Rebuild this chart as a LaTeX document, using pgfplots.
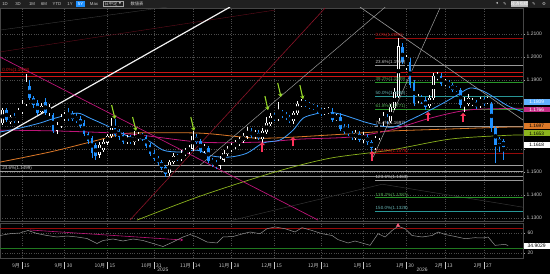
\documentclass[border=0pt]{standalone}
\usepackage{fontspec}
\setmainfont{Liberation Sans}
\newfontfamily\cjk{Noto Sans CJK JP}
\newfontfamily\dejavu{DejaVu Sans}
\usepackage{pgfplots}
\usepackage{pgfplotstable}
\pgfplotsset{compat=1.18}
\usetikzlibrary{arrows.meta}

\definecolor{cblue}{RGB}{30,144,255}
\definecolor{fibred}{RGB}{150,10,10}
\definecolor{lred}{RGB}{205,20,20}
\definecolor{fibgreen}{RGB}{40,150,40}
\definecolor{fibteal}{RGB}{40,150,150}
\definecolor{magma}{RGB}{190,20,120}
\definecolor{orangema}{RGB}{220,120,40}
\definecolor{limema}{RGB}{140,180,30}
\definecolor{arrowgreen}{RGB}{150,215,40}
\definecolor{arrowred}{RGB}{255,50,90}
\definecolor{gridc}{RGB}{75,75,75}
\definecolor{tool}{RGB}{32,32,32}
\definecolor{darkred}{RGB}{140,20,40}
\definecolor{lbl}{RGB}{200,200,200}

\newcommand{\xl}[2]{\makebox[0pt][r]{#1\hspace{2pt}}\rule[-1.5pt]{0.4pt}{7pt}\makebox[0pt][l]{\hspace{2pt}#2}}

\pgfplotstableread{
d o h l c
-5 1.1712 1.1777 1.1704 1.1769
-4 1.1769 1.1777 1.1717 1.1725
-3 1.1717 1.1747 1.1708 1.1738
-2 1.1738 1.1756 1.1712 1.1721
-1 1.1721 1.1777 1.1712 1.1769
0 1.1760 1.1812 1.1751 1.1795
1 1.1795 1.1925 1.1786 1.1890
2 1.1873 1.1899 1.1812 1.1821
3 1.1821 1.1829 1.1777 1.1790
4 1.1799 1.1812 1.1747 1.1756
5 1.1760 1.1799 1.1751 1.1786
6 1.1803 1.1821 1.1747 1.1756
7 1.1756 1.1795 1.1743 1.1782
8 1.1747 1.1756 1.1669 1.1678
9 1.1678 1.1717 1.1665 1.1704
10 1.1699 1.1751 1.1691 1.1738
11 1.1734 1.1760 1.1721 1.1747
12 1.1747 1.1777 1.1721 1.1734
13 1.1751 1.1764 1.1721 1.1730
14 1.1738 1.1756 1.1712 1.1721
15 1.1730 1.1743 1.1691 1.1699
16 1.1712 1.1725 1.1656 1.1665
17 1.1665 1.1673 1.1621 1.1634
18 1.1647 1.1656 1.1561 1.1582
19 1.1617 1.1626 1.1552 1.1569
20 1.1574 1.1630 1.1561 1.1617
21 1.1595 1.1643 1.1587 1.1630
22 1.1626 1.1665 1.1617 1.1656
23 1.1656 1.1734 1.1647 1.1691
24 1.1691 1.1730 1.1652 1.1660
25 1.1678 1.1686 1.1639 1.1652
26 1.1660 1.1673 1.1621 1.1630
27 1.1630 1.1660 1.1621 1.1647
28 1.1647 1.1660 1.1621 1.1634
29 1.1630 1.1678 1.1617 1.1652
30 1.1647 1.1673 1.1634 1.1660
31 1.1660 1.1669 1.1634 1.1647
32 1.1652 1.1660 1.1604 1.1613
33 1.1617 1.1626 1.1569 1.1578
34 1.1582 1.1595 1.1548 1.1556
35 1.1561 1.1569 1.1530 1.1539
36 1.1543 1.1552 1.1508 1.1517
37 1.1521 1.1530 1.1478 1.1491
38 1.1495 1.1552 1.1482 1.1543
39 1.1543 1.1582 1.1535 1.1569
40 1.1569 1.1578 1.1548 1.1556
41 1.1556 1.1595 1.1548 1.1582
42 1.1578 1.1604 1.1569 1.1591
43 1.1587 1.1617 1.1578 1.1604
44 1.1600 1.1678 1.1591 1.1656
45 1.1652 1.1665 1.1621 1.1630
46 1.1634 1.1643 1.1582 1.1591
47 1.1595 1.1621 1.1582 1.1608
48 1.1604 1.1613 1.1539 1.1548
49 1.1552 1.1561 1.1521 1.1535
50 1.1539 1.1552 1.1513 1.1521
51 1.1526 1.1569 1.1513 1.1556
52 1.1552 1.1595 1.1543 1.1582
53 1.1578 1.1613 1.1569 1.1600
54 1.1595 1.1626 1.1587 1.1613
55 1.1608 1.1639 1.1600 1.1626
56 1.1621 1.1652 1.1613 1.1639
57 1.1634 1.1669 1.1626 1.1656
58 1.1652 1.1695 1.1643 1.1678
59 1.1678 1.1691 1.1647 1.1656
60 1.1656 1.1682 1.1643 1.1669
61 1.1669 1.1682 1.1639 1.1647
62 1.1643 1.1691 1.1626 1.1678
63 1.1673 1.1738 1.1665 1.1712
64 1.1708 1.1756 1.1699 1.1743
65 1.1743 1.1756 1.1721 1.1730
66 1.1730 1.1803 1.1721 1.1764
67 1.1760 1.1769 1.1734 1.1747
68 1.1751 1.1760 1.1725 1.1734
69 1.1738 1.1747 1.1712 1.1721
70 1.1721 1.1764 1.1708 1.1756
71 1.1756 1.1808 1.1747 1.1795
72 1.1790 1.1816 1.1782 1.1803
73 1.1803 1.1812 1.1782 1.1790
74 1.1795 1.1803 1.1773 1.1782
75 1.1786 1.1795 1.1769 1.1777
76 1.1782 1.1790 1.1751 1.1764
77 1.1769 1.1777 1.1743 1.1756
78 1.1756 1.1777 1.1747 1.1769
79 1.1760 1.1782 1.1751 1.1769
80 1.1760 1.1777 1.1717 1.1725
81 1.1730 1.1751 1.1721 1.1738
82 1.1738 1.1756 1.1678 1.1686
83 1.1695 1.1708 1.1665 1.1673
84 1.1682 1.1708 1.1656 1.1669
85 1.1669 1.1678 1.1639 1.1647
86 1.1647 1.1682 1.1639 1.1669
87 1.1665 1.1678 1.1630 1.1639
88 1.1639 1.1673 1.1626 1.1660
89 1.1652 1.1665 1.1617 1.1630
90 1.1630 1.1639 1.1587 1.1604
91 1.1604 1.1656 1.1595 1.1647
92 1.1647 1.1734 1.1639 1.1721
93 1.1717 1.1760 1.1699 1.1743
94 1.1738 1.1751 1.1708 1.1721
95 1.1721 1.1795 1.1712 1.1782
96 1.1777 1.1864 1.1769 1.1847
97 1.1829 1.2081 1.1821 1.2045
98 1.2040 1.2060 1.1969 1.1977
99 1.1951 1.2008 1.1943 1.1999
100 1.1977 1.1995 1.1864 1.1877
101 1.1886 1.1899 1.1786 1.1799
102 1.1808 1.1838 1.1799 1.1825
103 1.1821 1.1834 1.1795 1.1808
104 1.1812 1.1825 1.1769 1.1782
105 1.1786 1.1834 1.1777 1.1821
106 1.1821 1.1929 1.1812 1.1916
107 1.1908 1.1934 1.1899 1.1921
108 1.1916 1.1929 1.1873 1.1882
109 1.1882 1.1903 1.1873 1.1890
110 1.1890 1.1899 1.1864 1.1873
111 1.1877 1.1886 1.1847 1.1856
112 1.1864 1.1873 1.1847 1.1856
113 1.1856 1.1864 1.1777 1.1790
114 1.1790 1.1825 1.1760 1.1803
115 1.1795 1.1838 1.1786 1.1821
116 1.1795 1.1821 1.1786 1.1808
117 1.1803 1.1812 1.1773 1.1782
118 1.1786 1.1825 1.1777 1.1816
119 1.1816 1.1825 1.1786 1.1795
120 1.1803 1.1825 1.1795 1.1816
121 1.1795 1.1803 1.1673 1.1691
122 1.1691 1.1699 1.1539 1.1617
123 1.1643 1.1652 1.1587 1.1621
124 1.1634 1.1643 1.1552 1.1608
125 1.1613 1.1626 1.1604 1.1618
}\candles

\pgfplotstableread{
d rsi
-5.67 55
-3.09 58.6
-0.52 60
1.55 65
3.87 59
6.44 55
9.02 52
11.60 54
14.18 52
16.75 49
19.33 39
20.88 45
23.45 48
26.03 44
28.61 48
31.19 45
33.76 39
36.34 33
38.92 42
41.49 52
43.30 57
45.10 52
47.68 42
50.26 40
51.80 52
54.38 53
56.96 58.6
58.76 62
61.34 58.6
63.14 68.6
65.21 72
67.78 68.6
70.36 62
72.16 70.7
74.74 65
77.32 58.6
79.90 55
81.44 46.7
84.02 40
85.82 44
87.63 40
89.69 35.3
91.75 58.6
93.56 52
95.36 65
96.91 73.3
98.71 68.6
100.52 55
103.09 52
105.67 55
107.22 62
109.02 57
111.60 53
114.18 48.6
116.75 50.6
118.81 50
120.10 52
121.91 35.3
124.48 37.3
125.26 34.9
}\rsitable

\begin{document}
\begin{tikzpicture}
\useasboundingbox (0,0) rectangle (550pt,274pt);
\fill[black] (0,0) rectangle (550pt,274pt);
% toolbar
\fill[tool] (0,266.5pt) rectangle (550pt,274pt);
\fill[cblue] (76pt,267.5pt) rectangle (85pt,273pt);
\draw[gray!70, line width=0.3pt] (103pt,267.5pt) rectangle (123pt,273pt);
\fill[gray!55] (511pt,267.5pt) rectangle (528pt,273pt);
\begin{scope}[every node/.style={font=\fontsize{4.3}{5}\selectfont, text=lbl, inner sep=0pt}]
\node at (5pt,270.2pt) {1D};
\node at (18pt,270.2pt) {3D};
\node at (32pt,270.2pt) {1M};
\node at (44pt,270.2pt) {6M};
\node at (57pt,270.2pt) {YTD};
\node at (70pt,270.2pt) {1Y};
\node[text=white] at (80.5pt,270.2pt) {5Y};
\node at (94pt,270.2pt) {Max};
\node at (111pt,270.2pt) {\cjk 日中足};
\node at (120pt,270.2pt) {\dejavu\fontsize{3}{3}\selectfont ▼};
\node at (137pt,270.2pt) {\cjk 数値表};
\node at (497pt,270.2pt) {\dejavu ◂};
\node at (505pt,270.2pt) {\dejavu ✎};
\node[text=white] at (519.5pt,270.2pt) {\cjk 経済指標};
\node at (534pt,270.2pt) {\dejavu ✎};
\node at (544pt,270.2pt) {\dejavu ⚙};
\end{scope}

% ================= main price panel =================
\begin{axis}[
  at={(0pt,53pt)}, anchor=south west, scale only axis,
  width=523pt, height=213pt,
  xmin=-5.67, xmax=129.1, ymin=1.1286, ymax=1.2212,
  axis line style={draw=gray!55!black, line width=0.6pt},
  xtick={0,11,22,34,44,54,65,77,88,99,109,119}, xticklabels={},
  xtick style={draw=none},
  ytick={1.13,1.14,1.15,1.16,1.17,1.18,1.19,1.20,1.21},
  yticklabels={1.1300,1.1400,1.1500,,,,1.1900,1.2000,1.2100},
  ytick pos=right, yticklabel pos=right,
  ytick style={draw=gray!70}, tick align=outside, major tick length=2pt,
  yticklabel style={font=\fontsize{5}{6}\selectfont, text=lbl, inner sep=1.5pt},
  grid=major, major grid style={draw=gridc, dash pattern=on 0.8pt off 1.6pt, line width=0.4pt},
  clip mode=individual,
]
% faint lines
\addplot[gray!45!black, line width=0.4pt] coordinates {(-5.67,1.2116) (37.4,1.2216)};
\addplot[darkred!70!black, line width=0.4pt] coordinates {(-5.67,1.2021) (65.2,1.2203)};
\addplot[gray!40!black, line width=0.5pt] coordinates {(54.4,1.1290) (92.8,1.1446) (129.1,1.1346)};
% horizontal levels (left)
\addplot[lred, line width=0.8pt] coordinates {(-5.67,1.1930) (129.1,1.1930)};
\addplot[lred, line width=0.8pt] coordinates {(-5.67,1.1916) (129.1,1.1916)};
\addplot[gray!75, line width=0.6pt] coordinates {(-5.67,1.1528) (129.1,1.1528)};
\addplot[gray!75, line width=0.6pt] coordinates {(-5.67,1.1502) (129.1,1.1502)};
\addplot[gray!90!white, line width=0.6pt] coordinates {(-5.67,1.1481) (129.1,1.1481)};
% fib levels (right)
\addplot[fibred, line width=0.7pt] coordinates {(91,1.2081) (129.1,1.2081)};
\addplot[gray!80, line width=0.7pt] coordinates {(91,1.1963) (129.1,1.1963)};
\addplot[fibgreen, line width=0.7pt] coordinates {(91,1.1889) (129.1,1.1889)};
\addplot[fibteal, line width=0.7pt] coordinates {(91,1.1830) (129.1,1.1830)};
\addplot[fibgreen, line width=0.7pt] coordinates {(91,1.1771) (129.1,1.1771)};
\addplot[gray!80, line width=0.7pt] coordinates {(91,1.1697) (129.1,1.1697)};
\addplot[fibred, line width=0.7pt] coordinates {(91,1.1579) (129.1,1.1579)};
\addplot[gray!80, line width=0.7pt] coordinates {(91,1.1463) (129.1,1.1463)};
\addplot[fibgreen, line width=0.7pt] coordinates {(91,1.1387) (129.1,1.1387)};
\addplot[fibteal, line width=0.7pt] coordinates {(91,1.1328) (129.1,1.1328)};
% moving averages
\addplot[limema, line width=0.7pt, smooth] coordinates {(29.64,1.1290) (45.88,1.1394) (65.21,1.1499) (79.38,1.1559) (94.85,1.1594) (110.31,1.1642) (124.48,1.1658) (129.1,1.1660)};
\addplot[orangema, line width=0.8pt, smooth] coordinates {(-5.67,1.1542) (7.22,1.1586) (17.53,1.1629) (22.68,1.1651) (27.84,1.1668) (45.88,1.1668) (61.34,1.1646) (79.38,1.1660) (94.85,1.1677) (110.31,1.1686) (124.48,1.1694) (129.1,1.1695)};
\addplot[magma, line width=0.8pt, smooth] coordinates {(-5.67,1.1681) (9.79,1.1677) (27.84,1.1664) (45.88,1.1629) (61.34,1.1629) (71.65,1.1642) (84.54,1.1651) (94.85,1.1681) (105.15,1.1733) (114.69,1.1768) (124.48,1.1775) (129.1,1.1776)};
\addplot[cblue!85!white, line width=0.8pt, smooth] coordinates {(-5.67,1.1673) (-0.52,1.1690) (4.64,1.1712) (8.51,1.1733) (14.18,1.1755) (17.53,1.1733) (22.68,1.1694) (27.84,1.1651) (32.22,1.1638) (36.34,1.1594) (40.72,1.1586) (45.10,1.1594) (49.23,1.1568) (53.61,1.1564) (57.99,1.1581) (62.11,1.1625) (66.49,1.1638) (69.85,1.1681) (72.42,1.1733) (75.52,1.1751) (78.61,1.1760) (81.96,1.1751) (85.31,1.1733) (88.40,1.1716) (91.49,1.1703) (95.62,1.1694) (100.0,1.1725) (105.15,1.1768) (109.02,1.1803) (112.11,1.1833) (115.46,1.1864) (118.81,1.1851) (121.91,1.1821) (125.26,1.1786) (129.1,1.1760)};
% trend lines
\addplot[white!90!gray, line width=1.2pt] coordinates {(-5.67,1.1651) (53.6,1.2216)};
\addplot[gray!80!white, line width=0.5pt] coordinates {(45.9,1.1529) (93.6,1.2216)};
\addplot[gray!80!white, line width=0.6pt] coordinates {(87.1,1.2216) (129.1,1.1725)};
\addplot[gray!75!white, line width=0.5pt] coordinates {(90.5,1.1564) (107.7,1.2212)};
\addplot[darkred, line width=0.6pt] coordinates {(27.8,1.1290) (78.1,1.2212)};
\addplot[magma, line width=0.7pt] coordinates {(-5.67,1.1999) (76.3,1.1290)};
% candles: wicks
\addplot[only marks, mark=none, forget plot,
  x filter/.expression={\thisrow{c}<\thisrow{o} ? x : nan},
  error bars/.cd, y dir=both, y explicit, error mark=none,
  error bar style={draw=cblue, line width=0.55pt}]
  table[x=d, y expr={(\thisrow{h}+\thisrow{l})/2}, y error expr={(\thisrow{h}-\thisrow{l})/2}] {\candles};
\addplot[only marks, mark=none, forget plot,
  x filter/.expression={\thisrow{c}<\thisrow{o} ? nan : x},
  error bars/.cd, y dir=both, y explicit, error mark=none,
  error bar style={draw=white, line width=0.5pt}]
  table[x=d, y expr={(\thisrow{h}+\thisrow{l})/2}, y error expr={(\thisrow{h}-\thisrow{l})/2}] {\candles};
% candles: bodies
\addplot[only marks, mark=none, forget plot,
  x filter/.expression={\thisrow{c}<\thisrow{o} ? x : nan},
  error bars/.cd, y dir=both, y explicit, error mark=none,
  error bar style={draw=cblue, line width=2.6pt}]
  table[x=d, y expr={(\thisrow{o}+\thisrow{c})/2}, y error expr={(\thisrow{o}-\thisrow{c})/2+0.00008}] {\candles};
\addplot[only marks, mark=none, forget plot,
  x filter/.expression={\thisrow{c}<\thisrow{o} ? nan : x},
  error bars/.cd, y dir=both, y explicit, error mark=none,
  error bar style={draw=white, line width=2.6pt}]
  table[x=d, y expr={(\thisrow{o}+\thisrow{c})/2}, y error expr={(\thisrow{c}-\thisrow{o})/2+0.0001}] {\candles};
\addplot[only marks, mark=none, forget plot,
  x filter/.expression={\thisrow{c}<\thisrow{o} ? nan : x},
  error bars/.cd, y dir=both, y explicit, error mark=none,
  error bar style={draw=black, line width=1.4pt}]
  table[x=d, y expr={(\thisrow{o}+\thisrow{c})/2}, y error expr={max((\thisrow{c}-\thisrow{o})/2-0.00016,0)}] {\candles};
% green arrows
\addplot[arrowgreen, line width=1.1pt, -{Stealth[length=3.5pt,width=4.5pt]}] coordinates {(23.1,1.1790) (23.97,1.1730)};
\addplot[arrowgreen, line width=1.1pt, -{Stealth[length=3.5pt,width=4.5pt]}] coordinates {(28.5,1.1738) (29.38,1.1678)};
\addplot[arrowgreen, line width=1.1pt, -{Stealth[length=3.5pt,width=4.5pt]}] coordinates {(43.5,1.1738) (44.33,1.1678)};
\addplot[arrowgreen, line width=1.1pt, -{Stealth[length=3.5pt,width=4.5pt]}] coordinates {(62.6,1.1829) (63.40,1.1768)};
\addplot[arrowgreen, line width=1.1pt, -{Stealth[length=3.5pt,width=4.5pt]}] coordinates {(65.9,1.1886) (66.75,1.1825)};
\addplot[arrowgreen, line width=1.1pt, -{Stealth[length=3.5pt,width=4.5pt]}] coordinates {(71.6,1.1877) (72.42,1.1816)};
% red arrows
\addplot[arrowred, line width=1.2pt, -{Triangle[length=3pt,width=5.5pt]}] coordinates {(61.86,1.1588) (61.86,1.1629)};
\addplot[arrowred, line width=1.2pt, -{Triangle[length=3pt,width=5.5pt]}] coordinates {(69.85,1.1610) (69.85,1.1651)};
\addplot[arrowred, line width=1.2pt, -{Triangle[length=3pt,width=5.5pt]}] coordinates {(90.21,1.1549) (90.21,1.1590)};
\addplot[arrowred, line width=1.2pt, -{Triangle[length=3pt,width=5.5pt]}] coordinates {(104.64,1.1719) (104.64,1.1760)};
\addplot[arrowred, line width=1.2pt, -{Triangle[length=3pt,width=5.5pt]}] coordinates {(113.66,1.1715) (113.66,1.1756)};
% level labels
\begin{scope}[every node/.style={font=\fontsize{4.5}{5}\selectfont, inner sep=0.4pt, anchor=south west}]
\node[text=lred] at (axis cs:-5.2,1.1931) {0.0\%(1.1918)};
\node[text=lbl, anchor=west] at (axis cs:-5.2,1.1514) {23.6\%(1.1499)};
\node[text=lred] at (axis cs:91,1.2081) {0.0\%(1.2081)};
\node[text=lbl] at (axis cs:91,1.1963) {23.6\%(1.1963)};
\node[text=fibgreen!80!white] at (axis cs:91,1.1889) {38.2\%(1.1889)};
\node[text=fibteal!70!white] at (axis cs:91,1.1830) {50.0\%(1.1830)};
\node[text=fibgreen!80!white] at (axis cs:91,1.1771) {61.8\%(1.1771)};
\node[text=lbl] at (axis cs:91,1.1697) {76.4\%(1.1697)};
\node[text=lred] at (axis cs:91,1.1579) {100.0\%(1.1579)};
\node[text=lbl] at (axis cs:91,1.1463) {123.6\%(1.1463)};
\node[text=fibgreen!80!white] at (axis cs:91,1.1387) {138.2\%(1.1387)};
\node[text=fibteal!70!white] at (axis cs:91,1.1328) {150.0\%(1.1328)};
\end{scope}
% right value boxes
\begin{scope}[every node/.style={font=\fontsize{4.8}{5.5}\selectfont, inner sep=0.3pt, anchor=west, minimum width=26pt, minimum height=5.8pt, xshift=0.5pt}]
\node[fill=cblue!70!white, text=white] at (axis cs:129.1,1.1805) {1.1809};
\node[fill=magma!90!white, text=white] at (axis cs:129.1,1.1771) {1.1766};
\node[fill=orangema, text=black] at (axis cs:129.1,1.1699) {1.1697};
\node[fill=limema, text=black] at (axis cs:129.1,1.1667) {1.1653};
\node[fill=white, text=black] at (axis cs:129.1,1.1618) {1.1618};
\end{scope}
\end{axis}

% ================= RSI panel =================
\begin{axis}[
  at={(0pt,16pt)}, anchor=south west, scale only axis,
  width=523pt, height=35pt,
  xmin=-5.67, xmax=129.1, ymin=10, ymax=80,
  axis line style={draw=gray!55!black, line width=0.6pt},
  xtick={0,11,22,34,44,54,65,77,88,99,109,119},
  xticklabels={{\xl{9月}{15}},{\xl{9月}{30}},{\xl{10月}{15}},{\xl{10月}{31}},{\xl{11月}{14}},{\xl{11月}{28}},{\xl{12月}{15}},{\xl{12月}{31}},{\xl{1月}{15}},{\xl{1月}{30}},{\xl{2月}{13}},{\xl{2月}{27}}},
  xtick style={draw=none},
  xticklabel style={font=\cjk\fontsize{5}{6}\selectfont, text=lbl, inner sep=1.5pt},
  ytick={20,60}, ytick pos=right, yticklabel pos=right,
  ytick style={draw=gray!70}, tick align=outside, major tick length=2pt,
  yticklabel style={font=\fontsize{5}{6}\selectfont, text=lbl, inner sep=2.5pt,
    /pgf/number format/assume math mode=true},
  grid=major, major grid style={draw=gridc, dash pattern=on 0.8pt off 1.6pt, line width=0.4pt},
  clip mode=individual,
]
\addplot[fibred, line width=0.7pt] coordinates {(-5.67,70) (129.1,70)};
\addplot[fibgreen!80!black, line width=0.7pt] coordinates {(-5.67,30) (129.1,30)};
\addplot[magma, line width=0.6pt, -{Stealth[length=2.5pt,width=3pt]}] coordinates {(2.06,66) (41.5,46)};
\addplot[gray!85!white, line width=0.5pt] table[x=d, y=rsi] {\rsitable};
\addplot[only marks, mark=triangle*, mark size=2pt, color=arrowred!80!white] coordinates {(96.9,75)};
\node[fill=white, text=black, font=\fontsize{5}{6}\selectfont, inner sep=0.5pt, anchor=west, minimum width=26pt, minimum height=6pt, xshift=0.5pt] at (axis cs:129.1,35) {34.9029};
\node[font=\fontsize{5}{6}\selectfont, text=lbl, yshift=-12pt] at (axis cs:36.3,10) {2025};
\node[font=\fontsize{5}{6}\selectfont, text=lbl, yshift=-12pt] at (axis cs:103.1,10) {2026};
\end{axis}
\end{tikzpicture}
\end{document}
